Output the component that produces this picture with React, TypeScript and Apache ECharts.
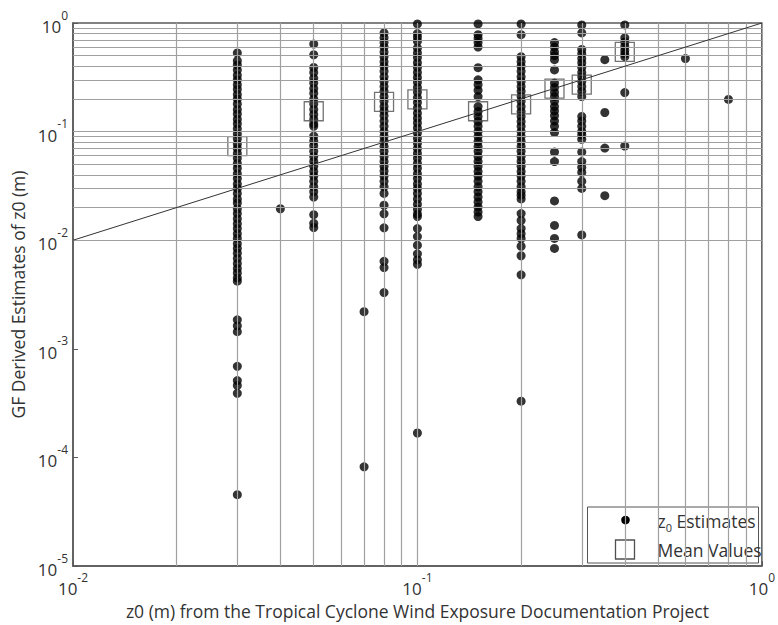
import React, { useEffect, useRef } from "react";
import * as echarts from "echarts";

// ---- data ----
const col003 = [0.53, 0.45, 0.41, 0.37, 0.33, 0.30, 0.27, 0.245, 0.22, 0.20, 0.18, 0.16, 0.145, 0.13, 0.118, 0.106, 0.095, 0.086, 0.077, 0.07, 0.063, 0.057, 0.051, 0.046, 0.041, 0.037, 0.033, 0.03, 0.027, 0.024, 0.022, 0.0195, 0.0176, 0.0158, 0.0142, 0.0128, 0.0115, 0.0104, 0.0093, 0.0084, 0.0076, 0.0068, 0.0061, 0.0055, 0.005, 0.0045, 0.0042, 0.00185, 0.00163, 0.00144, 0.00069, 0.00051, 0.00046, 0.00039, 0.0000455];
const col004 = [0.0195];
const col005 = [0.64, 0.51, 0.39, 0.35, 0.31, 0.28, 0.25, 0.225, 0.2, 0.18, 0.16, 0.144, 0.13, 0.118, 0.112, 0.091, 0.082, 0.074, 0.066, 0.059, 0.053, 0.048, 0.043, 0.039, 0.035, 0.031, 0.028, 0.025, 0.0172, 0.0143, 0.0131];
const col007 = [0.0022, 0.000082];
const col008 = [0.81, 0.73, 0.66, 0.6, 0.54, 0.49, 0.44, 0.4, 0.36, 0.32, 0.29, 0.26, 0.235, 0.21, 0.19, 0.17, 0.155, 0.14, 0.125, 0.112, 0.1, 0.09, 0.081, 0.073, 0.066, 0.059, 0.053, 0.048, 0.0435, 0.039, 0.035, 0.031, 0.027, 0.021, 0.0175, 0.013, 0.0064, 0.0056, 0.0033];
const col010 = [0.98, 0.8, 0.74, 0.68, 0.59, 0.53, 0.48, 0.43, 0.39, 0.35, 0.315, 0.285, 0.255, 0.23, 0.205, 0.185, 0.165, 0.148, 0.133, 0.12, 0.108, 0.097, 0.087, 0.078, 0.07, 0.063, 0.057, 0.051, 0.046, 0.041, 0.037, 0.033, 0.03, 0.027, 0.024, 0.0215, 0.0193, 0.0174, 0.0165, 0.0128, 0.0108, 0.009, 0.0075, 0.0066, 0.006, 0.000168];
const col015 = [0.98, 0.78, 0.72, 0.66, 0.6, 0.388, 0.3, 0.27, 0.24, 0.21, 0.17, 0.153, 0.138, 0.124, 0.112, 0.1, 0.09, 0.081, 0.073, 0.066, 0.059, 0.053, 0.048, 0.043, 0.039, 0.035, 0.031, 0.028, 0.025, 0.0225, 0.0202, 0.0182, 0.0165];
const col020 = [0.98, 0.78, 0.49, 0.44, 0.4, 0.36, 0.32, 0.29, 0.26, 0.235, 0.21, 0.19, 0.17, 0.153, 0.138, 0.124, 0.112, 0.1, 0.09, 0.081, 0.073, 0.066, 0.059, 0.053, 0.048, 0.043, 0.039, 0.035, 0.031, 0.028, 0.026, 0.024, 0.0176, 0.0152, 0.0128, 0.0115, 0.0104, 0.0088, 0.0072, 0.0048, 0.00033];
const col025 = [0.66, 0.6, 0.54, 0.5, 0.46, 0.37, 0.28, 0.255, 0.23, 0.21, 0.19, 0.17, 0.155, 0.14, 0.125, 0.112, 0.098, 0.065, 0.053, 0.023, 0.0137, 0.0104, 0.0084];
const col030 = [0.96, 0.81, 0.57, 0.52, 0.47, 0.43, 0.39, 0.35, 0.32, 0.29, 0.26, 0.235, 0.21, 0.138, 0.125, 0.112, 0.1, 0.093, 0.085, 0.065, 0.053, 0.047, 0.042, 0.035, 0.03, 0.0112];
const col035 = [0.46, 0.15, 0.0706, 0.0257];
const col040 = [0.96, 0.73, 0.67, 0.61, 0.56, 0.52, 0.49, 0.229, 0.0736];
const col060 = [0.47];
const col080 = [0.198];

const columns: [number, number[]][] = [
  [0.03, col003], [0.04, col004], [0.05, col005], [0.07, col007], [0.08, col008],
  [0.1, col010], [0.15, col015], [0.2, col020], [0.25, col025], [0.3, col030],
  [0.35, col035], [0.4, col040], [0.6, col060], [0.8, col080],
];

const meanX = [0.03, 0.05, 0.08, 0.1, 0.15, 0.2, 0.25, 0.3, 0.4];
const meanY = [0.0736, 0.154, 0.188, 0.198, 0.154, 0.178, 0.249, 0.271, 0.543];

const oneToOne = [[0.01, 0.01], [1, 1]];

const xDecades = [-2, -1];
const yDecades = [-5, -4, -3, -2, -1];

const FONT = "'Open Sans', 'Noto Sans', sans-serif";
const TXT = "#333333";

export default function App() {
  const ref = useRef<HTMLDivElement>(null);

  useEffect(() => {
    if (!ref.current) return;
    const chart = echarts.init(ref.current, undefined, { renderer: "svg" });

    const points: number[][] = [];
    columns.forEach(([x, ys]) => ys.forEach((y) => points.push([x, y])));
    const means = meanX.map((x, i) => [x, meanY[i]]);

    const gridLines: any[] = [];
    xDecades.forEach((e) => {
      for (let m = 1; m <= 9; m++) {
        if (m === 1 && e === -2) continue;
        gridLines.push({ xAxis: m * Math.pow(10, e) });
      }
    });
    yDecades.forEach((e) => {
      for (let m = 1; m <= 9; m++) {
        if (m === 1 && e === -5) continue;
        gridLines.push({ yAxis: m * Math.pow(10, e) });
      }
    });

    const labelFmt = (v: number) => `{b|10}{e|${Math.round(Math.log10(v))}}`;
    const rich = {
      b: { fontSize: 17, fontFamily: FONT, color: TXT, lineHeight: 24, verticalAlign: "bottom" },
      e: { fontSize: 12, fontFamily: FONT, color: TXT, lineHeight: 14, verticalAlign: "bottom", padding: [0, 0, 14, 0] },
    };

    const option: any = {
      animation: false,
      backgroundColor: "#ffffff",
      textStyle: { fontFamily: FONT },
      grid: {
        left: 73, top: 23, width: 692, height: 547,
        show: true, borderColor: "#595959", borderWidth: 1.5, backgroundColor: "transparent",
      },
      xAxis: {
        type: "log", logBase: 10, min: 0.01, max: 1,
        name: "z0 (m) from the Tropical Cyclone Wind Exposure Documentation Project",
        nameLocation: "middle", nameGap: 32,
        nameTextStyle: { fontSize: 17.5, fontFamily: FONT, color: TXT },
        axisLine: { show: true, lineStyle: { color: "#595959", width: 1.5 } },
        axisTick: { show: true, inside: true, length: 5, lineStyle: { color: "#595959" } },
        axisLabel: { formatter: labelFmt, rich, margin: 7 },
        splitLine: { show: false },
      },
      yAxis: {
        type: "log", logBase: 10, min: 0.00001, max: 1,
        name: "GF Derived Estimates of z0 (m)",
        nameLocation: "middle", nameGap: 44,
        nameTextStyle: { fontSize: 17.5, fontFamily: FONT, color: TXT },
        axisLine: { show: true, lineStyle: { color: "#595959", width: 1.5 } },
        axisTick: { show: true, inside: true, length: 5, lineStyle: { color: "#595959" } },
        axisLabel: { formatter: labelFmt, rich, margin: 5 },
        splitLine: { show: false },
      },
      series: [
        {
          name: "grid",
          type: "line",
          data: [],
          silent: true,
          z: 1,
          markLine: {
            silent: true,
            symbol: ["none", "none"],
            label: { show: false },
            lineStyle: { color: "#a0a0a0", width: 1.2, type: "solid" },
            emphasis: { disabled: true },
            data: gridLines,
          },
        },
        {
          name: "z0 Estimates",
          type: "scatter",
          data: points,
          symbol: "circle",
          symbolSize: 9,
          z: 3,
          itemStyle: { color: "#000000" },
        },
        {
          name: "Mean Values",
          type: "scatter",
          data: means,
          symbol: "rect",
          symbolSize: 19,
          z: 4,
          itemStyle: { color: "rgba(0,0,0,0)", borderColor: "#505050", borderWidth: 1.3 },
        },
        {
          name: "1:1",
          type: "line",
          data: oneToOne,
          symbol: "none",
          z: 5,
          lineStyle: { color: "#333333", width: 1 },
        },
      ],
      graphic: [
        {
          type: "group",
          left: 587, top: 506, z: 100,
          children: [
            { type: "rect", shape: { x: 0, y: 0, width: 171, height: 56 }, style: { fill: "#ffffff", stroke: "#555555", lineWidth: 1 } },
            { type: "circle", shape: { cx: 38, cy: 13, r: 4.3 }, style: { fill: "#000000" } },
            { type: "rect", shape: { x: 28, y: 33, width: 19, height: 19 }, style: { fill: "#ffffff", stroke: "#505050", lineWidth: 1.3 } },
            {
              type: "text", x: 70, y: 11,
              style: {
                text: "{a|z}{s|0}{a| Estimates}",
                verticalAlign: "middle",
                rich: {
                  a: { fontSize: 17.5, fontFamily: FONT, fill: TXT, lineHeight: 24, verticalAlign: "bottom" },
                  s: { fontSize: 11, fontFamily: FONT, fill: TXT, lineHeight: 12, verticalAlign: "top", padding: [16, 0, 0, 0] },
                },
              },
            },
            {
              type: "text", x: 70, y: 43,
              style: { text: "Mean Values", fontSize: 17.5, fontFamily: FONT, fill: TXT, verticalAlign: "middle" },
            },
          ],
        },
      ],
    };

    chart.setOption(option);
    return () => chart.dispose();
  }, []);

  return <div ref={ref} style={{ position: "absolute", left: 0, top: 0, width: 778, height: 625 }} />;
}
